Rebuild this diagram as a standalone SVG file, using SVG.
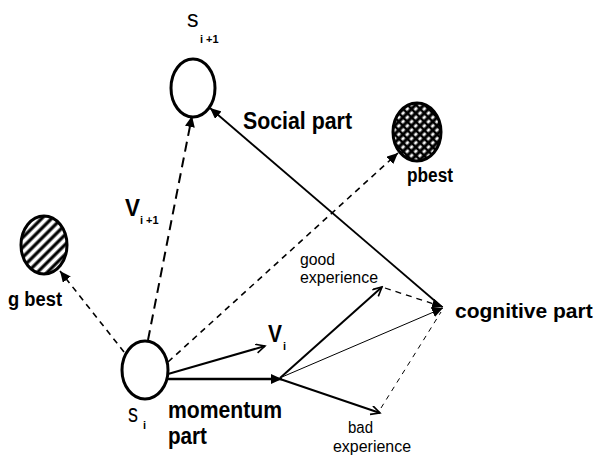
<svg xmlns="http://www.w3.org/2000/svg" width="598" height="458" viewBox="0 0 598 458">
<style>
text{font-family:"Liberation Sans",Arial,sans-serif;fill:#000}
.lbl{font-weight:bold;font-size:24px}
.sm{font-size:16px}
.sub{font-size:11px;font-weight:bold}
.node{stroke:#000;stroke-width:3}
.ln{stroke:#000;fill:none}
</style>
<defs>
<pattern id="hatch" width="7" height="7" patternUnits="userSpaceOnUse" patternTransform="rotate(45)">
<rect width="7" height="7" fill="#fff"/>
<line x1="2" y1="0" x2="2" y2="7" stroke="#000" stroke-width="3.2"/>
</pattern>
<pattern id="cross" width="6" height="6" patternUnits="userSpaceOnUse" patternTransform="rotate(45)">
<rect width="6" height="6" fill="#fff"/>
<line x1="2" y1="0" x2="2" y2="6" stroke="#000" stroke-width="3.2"/>
<line x1="0" y1="2" x2="6" y2="2" stroke="#000" stroke-width="2.6"/>
</pattern>
<marker id="fa" markerUnits="userSpaceOnUse" markerWidth="12" markerHeight="10" refX="11" refY="5" orient="auto">
<path d="M0,0 L11,5 L0,10 z" fill="#000"/>
</marker>
<marker id="oa" markerUnits="userSpaceOnUse" markerWidth="12" markerHeight="12" refX="10" refY="5" orient="auto">
<path d="M1,0.5 L10,5 L1,9.5" fill="none" stroke="#000" stroke-width="1.6"/>
</marker>
</defs>
<rect width="598" height="458" fill="#fff"/>

<g id="connectors">
<line class="ln" x1="148" y1="340" x2="192" y2="116" stroke-width="2" stroke-dasharray="10,6" marker-end="url(#fa)"/>
<line class="ln" x1="124" y1="352" x2="60" y2="271" stroke-width="1.6" stroke-dasharray="6,5" marker-end="url(#fa)"/>
<line class="ln" x1="168" y1="362" x2="398" y2="153" stroke-width="1.6" stroke-dasharray="6,5" marker-end="url(#fa)"/>
<line class="ln" x1="168" y1="374" x2="265" y2="346" stroke-width="2" marker-end="url(#oa)"/>
<line class="ln" x1="168" y1="379" x2="282" y2="379" stroke-width="2.6" marker-end="url(#fa)"/>
<line class="ln" x1="442" y1="307" x2="210" y2="108" stroke-width="1.8" marker-end="url(#fa)"/>
<line class="ln" x1="280" y1="378" x2="382" y2="287" stroke-width="2" marker-end="url(#oa)"/>
<line class="ln" x1="280" y1="379" x2="380" y2="413" stroke-width="2" marker-end="url(#oa)"/>
<line class="ln" x1="282" y1="377" x2="443" y2="308" stroke-width="1" marker-end="url(#fa)"/>
<line class="ln" x1="385" y1="288" x2="443" y2="307" stroke-width="1.3" stroke-dasharray="6,5" marker-end="url(#fa)"/>
<line class="ln" x1="381" y1="408" x2="441" y2="312" stroke-width="1" stroke-dasharray="5,5"/>
</g>

<g id="s_next">
<ellipse class="node" cx="193" cy="88" rx="22" ry="29" fill="#fff"/>
<text x="187" y="27" font-size="23">s</text>
<text class="sub" x="200" y="43">i +1</text>
</g>

<g id="s_i">
<ellipse class="node" cx="145" cy="370" rx="23" ry="29" fill="#fff"/>
<text x="128" y="422" font-size="26" textLength="10" lengthAdjust="spacingAndGlyphs">s</text>
<text class="sub" x="143" y="429">i</text>
</g>

<g id="gbest">
<ellipse class="node" cx="44" cy="245" rx="23" ry="29" fill="url(#hatch)"/>
<text x="8" y="306" font-size="20" font-weight="bold" textLength="54" lengthAdjust="spacingAndGlyphs">g best</text>
</g>

<g id="pbest">
<ellipse class="node" cx="417" cy="132" rx="24" ry="29" fill="url(#cross)"/>
<text x="407" y="182" font-size="20" font-weight="bold" textLength="46" lengthAdjust="spacingAndGlyphs">pbest</text>
</g>

<g id="v_next">
<text x="125" y="216" font-size="24" font-weight="bold" textLength="15" lengthAdjust="spacingAndGlyphs">V</text>
<text class="sub" x="140" y="224">i +1</text>
</g>

<g id="v_i">
<text x="268" y="342" font-size="23" font-weight="bold" textLength="14" lengthAdjust="spacingAndGlyphs">V</text>
<text class="sub" x="283" y="350">i</text>
</g>

<g id="social">
<text class="lbl" x="243" y="129" textLength="109" lengthAdjust="spacingAndGlyphs">Social part</text>
</g>

<g id="cognitive">
<text class="lbl" x="455" y="318" style="font-size:21px">cognitive part</text>
</g>

<g id="momentum">
<text class="lbl" x="168" y="418" textLength="114" lengthAdjust="spacingAndGlyphs">momentum</text>
<text class="lbl" x="168" y="444" textLength="39" lengthAdjust="spacingAndGlyphs">part</text>
</g>

<g id="good">
<text class="sm" x="300" y="265" textLength="35" lengthAdjust="spacingAndGlyphs">good</text>
<text class="sm" x="300" y="283" textLength="78" lengthAdjust="spacingAndGlyphs">experience</text>
</g>

<g id="bad">
<text class="sm" x="348" y="433" textLength="25" lengthAdjust="spacingAndGlyphs">bad</text>
<text class="sm" x="333" y="452" textLength="78" lengthAdjust="spacingAndGlyphs">experience</text>
</g>
</svg>
